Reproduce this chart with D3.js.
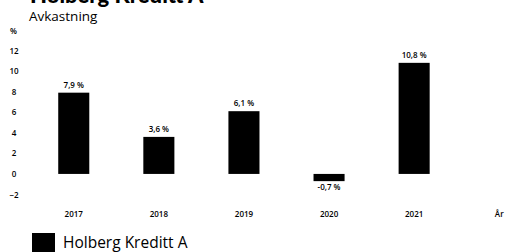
<!DOCTYPE html>
<html><head><meta charset="utf-8">
<script src="https://cdn.jsdelivr.net/npm/d3@7"></script>
<style>body{margin:0;background:#fff}svg{display:block}text{font-family:"Open Sans",Lato,sans-serif}</style>
</head><body><svg id="c" width="511" height="252"></svg>
<script>
const categories = ["2017","2018","2019","2020","2021"];
const values = [7.9, 3.6, 6.1, -0.7, 10.8];
const valueLabels = ["7,9 %","3,6 %","6,1 %","-0,7 %","10,8 %"];
const yTicks = [-2,0,2,4,6,8,10,12];
const seriesName = "Holberg Kreditt A";

const svg = d3.select("#c");
const x = d3.scaleBand().domain([...categories, "År"]).range([31, 542]).paddingInner(0.635).paddingOuter(0.32);
const y = d3.scaleLinear().domain([-2, 12]).range([194.5, 50.5]);

svg.append("text").attr("x", 30).attr("y", 3).attr("font-size", 22).attr("font-weight", 900)
  .style("font-family","Lato,sans-serif").text(seriesName);
svg.append("text").attr("x", 29).attr("y", 21).attr("font-size", 13.5).text("Avkastning");
svg.append("text").attr("x", 10).attr("y", 34).attr("font-size", 8).attr("font-weight", 600).text("%");

const ya = svg.append("g").attr("transform","translate(18,0)")
  .call(d3.axisLeft(y).tickValues(yTicks).tickSize(0).tickPadding(0).tickFormat(d3.format("d")));
ya.select(".domain").remove();
ya.selectAll("text").attr("font-size", 8).attr("font-weight", 600).attr("text-anchor","middle").attr("dx", -4);

const xa = svg.append("g").attr("transform","translate(0,214)")
  .call(d3.axisBottom(x).tickSize(0).tickPadding(0));
xa.select(".domain").remove();
xa.selectAll("text").attr("font-size", 8).attr("font-weight", 600).attr("dy","0.35em");

svg.selectAll("rect.bar").data(values).join("rect").attr("class","bar")
  .attr("x", (d,i)=>x(categories[i])).attr("width", x.bandwidth())
  .attr("y", d=>y(Math.max(0,d))).attr("height", d=>Math.abs(y(d)-y(0)))
  .attr("fill","#000");

svg.selectAll("text.vl").data(values).join("text").attr("class","vl")
  .attr("x", (d,i)=>x(categories[i]) + x.bandwidth()/2)
  .attr("y", d=> d>=0 ? y(d)-5 : y(d)+9)
  .attr("text-anchor","middle").attr("font-size", 8).attr("font-weight", 600)
  .text((d,i)=>valueLabels[i]);

svg.append("rect").attr("x", 32).attr("y", 233).attr("width", 23).attr("height", 20).attr("fill","#000");
svg.append("text").attr("x", 63).attr("y", 248).attr("font-size", 15.5).text(seriesName);
</script></body></html>
